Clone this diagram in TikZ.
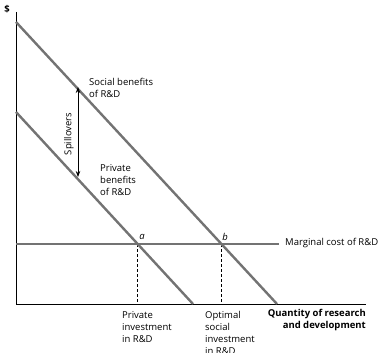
\documentclass[tikz,border=0pt]{standalone}
\usepackage{fontspec}
\setmainfont{Open Sans}
\usetikzlibrary{arrows.meta}
\begin{document}
\begin{tikzpicture}[x=1pt,y=-1pt,
  curve/.style={draw=black!55,line width=2.4pt},
  axis/.style={draw=black,line width=0.8pt},
  lbl/.style={font=\fontsize{9.5}{12}\selectfont,inner sep=0pt,align=left},
  guide/.style={draw=black,line width=0.5pt,dash pattern=on 2.5pt off 2.5pt}]
\useasboundingbox (0,0) rectangle (386,353);
% axes
\coordinate (o) at (16,304);
\coordinate (ytop) at (16,12);
\coordinate (xend) at (366,304);
\draw[axis] (ytop) -- (o) -- (xend);
\node[lbl,font=\fontsize{9.5}{10}\selectfont\bfseries] (dollar) at (7,9) {\$};
% curves
\coordinate (s0) at (16,22);
\coordinate (s1) at (277,304);
\coordinate (p0) at (16,112);
\coordinate (p1) at (193,304);
\coordinate (m0) at (16,244);
\coordinate (m1) at (279,244);
\coordinate (a) at (137.7,244);
\coordinate (b) at (221.5,244);
\coordinate (ab) at (137.7,304);
\coordinate (bb) at (221.5,304);
\draw[guide] (a) -- (ab);
\draw[guide] (b) -- (bb);
\draw[curve] (m0) -- (m1);
\draw[curve] (s0) -- (s1);
\draw[curve] (p0) -- (p1);
% spillovers
\coordinate (sp0) at (78,87);
\coordinate (sp1) at (78,177);
\draw[line width=0.8pt,{Stealth[length=6pt,width=4.5pt]}-{Stealth[length=6pt,width=4.5pt]}] (sp0) -- (sp1);
\node[lbl,rotate=90] (spill) at (69,134) {Spillovers};
% labels
\node[lbl,anchor=north west] (social) at (89,78) {Social benefits\\of R\&D};
\node[lbl,anchor=north west] (private) at (100,164) {Private\\benefits\\of R\&D};
\node[lbl,anchor=west] (mc) at (285,243) {Marginal cost of R\&D};
\node[lbl,font=\fontsize{9.5}{10}\selectfont\itshape] (la) at (142,237) {a};
\node[lbl,font=\fontsize{9.5}{10}\selectfont\itshape] (lb) at (225,237) {b};
\node[lbl,anchor=north west] (pinv) at (122,311) {Private\\investment\\in R\&D};
\node[lbl,anchor=north west] (oinv) at (205,311) {Optimal\\social\\investment\\in R\&D};
\node[lbl,anchor=north east,align=right,font=\fontsize{9.5}{12}\selectfont\bfseries] (qty) at (366,309) {Quantity of research\\and development};
\end{tikzpicture}
\end{document}
